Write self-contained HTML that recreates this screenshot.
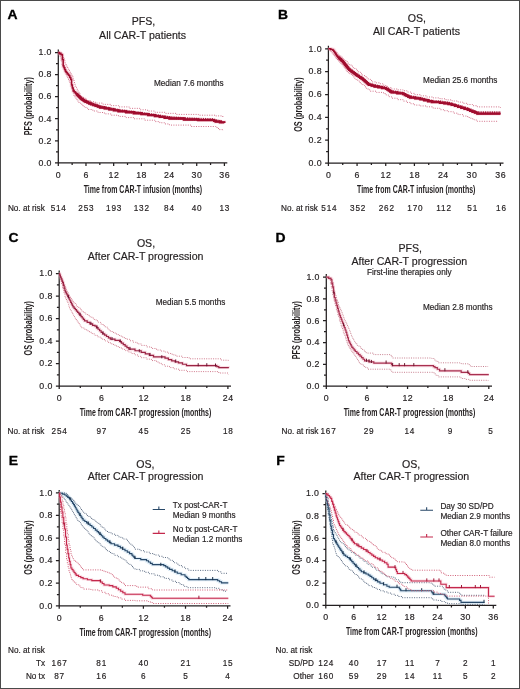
<!DOCTYPE html>
<html><head><meta charset="utf-8"><style>
html,body{margin:0;padding:0;background:#fff;}
#w{position:relative;width:520px;height:689px;overflow:hidden;background:#fff;}
svg{position:absolute;left:0;top:0;}
#g{position:absolute;left:0;top:0;width:520px;height:689px;will-change:transform;}
text{font-family:"Liberation Sans", sans-serif;}
#bd{position:absolute;left:0;top:0;width:518px;height:687px;border:1px solid #4a4a4a;}
</style></head><body><div id="w">
<div id="g"><svg width="520" height="689" viewBox="0 0 520 689">
<text transform="translate(7.60,18.90) scale(1.14,1)" font-size="12.2" text-anchor="start" font-weight="bold" fill="#000" stroke="#000" stroke-width="0.3">A</text>
<text transform="translate(278.00,19.20) scale(1.14,1)" font-size="12.2" text-anchor="start" font-weight="bold" fill="#000" stroke="#000" stroke-width="0.3">B</text>
<text transform="translate(8.40,242.20) scale(1.14,1)" font-size="12.2" text-anchor="start" font-weight="bold" fill="#000" stroke="#000" stroke-width="0.3">C</text>
<text transform="translate(275.60,242.20) scale(1.14,1)" font-size="12.2" text-anchor="start" font-weight="bold" fill="#000" stroke="#000" stroke-width="0.3">D</text>
<text transform="translate(8.70,464.90) scale(1.14,1)" font-size="12.2" text-anchor="start" font-weight="bold" fill="#000" stroke="#000" stroke-width="0.3">E</text>
<text transform="translate(276.30,464.90) scale(1.14,1)" font-size="12.2" text-anchor="start" font-weight="bold" fill="#000" stroke="#000" stroke-width="0.3">F</text>
<text x="143.50" y="25.00" font-size="10.6" text-anchor="middle" font-weight="normal" fill="#231f20" stroke="#231f20" stroke-width="0.18">PFS,</text>
<text x="142.60" y="38.70" font-size="10.6" text-anchor="middle" font-weight="normal" fill="#231f20" stroke="#231f20" stroke-width="0.18">All CAR-T patients</text>
<text x="416.80" y="22.40" font-size="10.6" text-anchor="middle" font-weight="normal" fill="#231f20" stroke="#231f20" stroke-width="0.18">OS,</text>
<text x="416.50" y="35.20" font-size="10.6" text-anchor="middle" font-weight="normal" fill="#231f20" stroke="#231f20" stroke-width="0.18">All CAR-T patients</text>
<text x="146.00" y="246.60" font-size="10.6" text-anchor="middle" font-weight="normal" fill="#231f20" stroke="#231f20" stroke-width="0.18">OS,</text>
<text x="145.60" y="259.60" font-size="10.6" text-anchor="middle" font-weight="normal" fill="#231f20" stroke="#231f20" stroke-width="0.18">After CAR-T progression</text>
<text x="410.20" y="252.40" font-size="10.6" text-anchor="middle" font-weight="normal" fill="#231f20" stroke="#231f20" stroke-width="0.18">PFS,</text>
<text x="409.30" y="265.40" font-size="10.6" text-anchor="middle" font-weight="normal" fill="#231f20" stroke="#231f20" stroke-width="0.18">After CAR-T progression</text>
<text x="409.30" y="274.90" font-size="8.2" text-anchor="middle" font-weight="normal" fill="#231f20" stroke="#231f20" stroke-width="0.18">First-line therapies only</text>
<text x="145.40" y="467.60" font-size="10.6" text-anchor="middle" font-weight="normal" fill="#231f20" stroke="#231f20" stroke-width="0.18">OS,</text>
<text x="145.60" y="480.30" font-size="10.6" text-anchor="middle" font-weight="normal" fill="#231f20" stroke="#231f20" stroke-width="0.18">After CAR-T progression</text>
<text x="411.20" y="467.60" font-size="10.6" text-anchor="middle" font-weight="normal" fill="#231f20" stroke="#231f20" stroke-width="0.18">OS,</text>
<text x="411.35" y="480.30" font-size="10.6" text-anchor="middle" font-weight="normal" fill="#231f20" stroke="#231f20" stroke-width="0.18">After CAR-T progression</text>
<path d="M58.30 49.50V163.50 M57.70 162.90H227.30 M55.00 162.90H58.30 M56.00 151.86H58.30 M55.00 140.82H58.30 M56.00 129.78H58.30 M55.00 118.74H58.30 M56.00 107.70H58.30 M55.00 96.66H58.30 M56.00 85.62H58.30 M55.00 74.58H58.30 M56.00 63.54H58.30 M55.00 52.50H58.30 M58.30 162.90V165.90 M72.14 162.90V164.90 M85.98 162.90V165.90 M99.83 162.90V164.90 M113.67 162.90V165.90 M127.51 162.90V164.90 M141.35 162.90V165.90 M155.19 162.90V164.90 M169.03 162.90V165.90 M182.88 162.90V164.90 M196.72 162.90V165.90 M210.56 162.90V164.90 M224.40 162.90V165.90" stroke="#231f20" stroke-width="1.25" fill="none"/>
<text x="51.90" y="165.70" font-size="8.8" text-anchor="end" font-weight="normal" fill="#231f20" stroke="#231f20" stroke-width="0.18" letter-spacing="0.4">0.0</text>
<text x="51.90" y="143.62" font-size="8.8" text-anchor="end" font-weight="normal" fill="#231f20" stroke="#231f20" stroke-width="0.18" letter-spacing="0.4">0.2</text>
<text x="51.90" y="121.54" font-size="8.8" text-anchor="end" font-weight="normal" fill="#231f20" stroke="#231f20" stroke-width="0.18" letter-spacing="0.4">0.4</text>
<text x="51.90" y="99.46" font-size="8.8" text-anchor="end" font-weight="normal" fill="#231f20" stroke="#231f20" stroke-width="0.18" letter-spacing="0.4">0.6</text>
<text x="51.90" y="77.38" font-size="8.8" text-anchor="end" font-weight="normal" fill="#231f20" stroke="#231f20" stroke-width="0.18" letter-spacing="0.4">0.8</text>
<text x="51.90" y="55.30" font-size="8.8" text-anchor="end" font-weight="normal" fill="#231f20" stroke="#231f20" stroke-width="0.18" letter-spacing="0.4">1.0</text>
<text x="58.55" y="177.90" font-size="8.8" text-anchor="middle" font-weight="normal" fill="#231f20" stroke="#231f20" stroke-width="0.18" letter-spacing="0.5">0</text>
<text x="86.23" y="177.90" font-size="8.8" text-anchor="middle" font-weight="normal" fill="#231f20" stroke="#231f20" stroke-width="0.18" letter-spacing="0.5">6</text>
<text x="113.92" y="177.90" font-size="8.8" text-anchor="middle" font-weight="normal" fill="#231f20" stroke="#231f20" stroke-width="0.18" letter-spacing="0.5">12</text>
<text x="141.60" y="177.90" font-size="8.8" text-anchor="middle" font-weight="normal" fill="#231f20" stroke="#231f20" stroke-width="0.18" letter-spacing="0.5">18</text>
<text x="169.28" y="177.90" font-size="8.8" text-anchor="middle" font-weight="normal" fill="#231f20" stroke="#231f20" stroke-width="0.18" letter-spacing="0.5">24</text>
<text x="196.97" y="177.90" font-size="8.8" text-anchor="middle" font-weight="normal" fill="#231f20" stroke="#231f20" stroke-width="0.18" letter-spacing="0.5">30</text>
<text x="224.65" y="177.90" font-size="8.8" text-anchor="middle" font-weight="normal" fill="#231f20" stroke="#231f20" stroke-width="0.18" letter-spacing="0.5">36</text>
<path d="M328.40 45.80V163.70 M327.80 163.10H503.50 M325.10 163.10H328.40 M326.10 151.67H328.40 M325.10 140.24H328.40 M326.10 128.81H328.40 M325.10 117.38H328.40 M326.10 105.95H328.40 M325.10 94.52H328.40 M326.10 83.09H328.40 M325.10 71.66H328.40 M326.10 60.23H328.40 M325.10 48.80H328.40 M328.40 163.10V166.10 M342.73 163.10V165.10 M357.07 163.10V166.10 M371.40 163.10V165.10 M385.73 163.10V166.10 M400.07 163.10V165.10 M414.40 163.10V166.10 M428.73 163.10V165.10 M443.07 163.10V166.10 M457.40 163.10V165.10 M471.73 163.10V166.10 M486.07 163.10V165.10 M500.40 163.10V166.10" stroke="#231f20" stroke-width="1.25" fill="none"/>
<text x="322.00" y="165.90" font-size="8.8" text-anchor="end" font-weight="normal" fill="#231f20" stroke="#231f20" stroke-width="0.18" letter-spacing="0.4">0.0</text>
<text x="322.00" y="143.04" font-size="8.8" text-anchor="end" font-weight="normal" fill="#231f20" stroke="#231f20" stroke-width="0.18" letter-spacing="0.4">0.2</text>
<text x="322.00" y="120.18" font-size="8.8" text-anchor="end" font-weight="normal" fill="#231f20" stroke="#231f20" stroke-width="0.18" letter-spacing="0.4">0.4</text>
<text x="322.00" y="97.32" font-size="8.8" text-anchor="end" font-weight="normal" fill="#231f20" stroke="#231f20" stroke-width="0.18" letter-spacing="0.4">0.6</text>
<text x="322.00" y="74.46" font-size="8.8" text-anchor="end" font-weight="normal" fill="#231f20" stroke="#231f20" stroke-width="0.18" letter-spacing="0.4">0.8</text>
<text x="322.00" y="51.60" font-size="8.8" text-anchor="end" font-weight="normal" fill="#231f20" stroke="#231f20" stroke-width="0.18" letter-spacing="0.4">1.0</text>
<text x="328.65" y="178.10" font-size="8.8" text-anchor="middle" font-weight="normal" fill="#231f20" stroke="#231f20" stroke-width="0.18" letter-spacing="0.5">0</text>
<text x="357.32" y="178.10" font-size="8.8" text-anchor="middle" font-weight="normal" fill="#231f20" stroke="#231f20" stroke-width="0.18" letter-spacing="0.5">6</text>
<text x="385.98" y="178.10" font-size="8.8" text-anchor="middle" font-weight="normal" fill="#231f20" stroke="#231f20" stroke-width="0.18" letter-spacing="0.5">12</text>
<text x="414.65" y="178.10" font-size="8.8" text-anchor="middle" font-weight="normal" fill="#231f20" stroke="#231f20" stroke-width="0.18" letter-spacing="0.5">18</text>
<text x="443.32" y="178.10" font-size="8.8" text-anchor="middle" font-weight="normal" fill="#231f20" stroke="#231f20" stroke-width="0.18" letter-spacing="0.5">24</text>
<text x="471.98" y="178.10" font-size="8.8" text-anchor="middle" font-weight="normal" fill="#231f20" stroke="#231f20" stroke-width="0.18" letter-spacing="0.5">30</text>
<text x="500.65" y="178.10" font-size="8.8" text-anchor="middle" font-weight="normal" fill="#231f20" stroke="#231f20" stroke-width="0.18" letter-spacing="0.5">36</text>
<path d="M59.20 270.50V386.60 M58.60 386.00H231.00 M55.90 386.00H59.20 M56.90 374.75H59.20 M55.90 363.50H59.20 M56.90 352.25H59.20 M55.90 341.00H59.20 M56.90 329.75H59.20 M55.90 318.50H59.20 M56.90 307.25H59.20 M55.90 296.00H59.20 M56.90 284.75H59.20 M55.90 273.50H59.20 M59.20 386.00V389.00 M80.29 386.00V388.00 M101.38 386.00V389.00 M122.46 386.00V388.00 M143.55 386.00V389.00 M164.64 386.00V388.00 M185.72 386.00V389.00 M206.81 386.00V388.00 M227.90 386.00V389.00" stroke="#231f20" stroke-width="1.25" fill="none"/>
<text x="52.80" y="388.80" font-size="8.8" text-anchor="end" font-weight="normal" fill="#231f20" stroke="#231f20" stroke-width="0.18" letter-spacing="0.4">0.0</text>
<text x="52.80" y="366.30" font-size="8.8" text-anchor="end" font-weight="normal" fill="#231f20" stroke="#231f20" stroke-width="0.18" letter-spacing="0.4">0.2</text>
<text x="52.80" y="343.80" font-size="8.8" text-anchor="end" font-weight="normal" fill="#231f20" stroke="#231f20" stroke-width="0.18" letter-spacing="0.4">0.4</text>
<text x="52.80" y="321.30" font-size="8.8" text-anchor="end" font-weight="normal" fill="#231f20" stroke="#231f20" stroke-width="0.18" letter-spacing="0.4">0.6</text>
<text x="52.80" y="298.80" font-size="8.8" text-anchor="end" font-weight="normal" fill="#231f20" stroke="#231f20" stroke-width="0.18" letter-spacing="0.4">0.8</text>
<text x="52.80" y="276.30" font-size="8.8" text-anchor="end" font-weight="normal" fill="#231f20" stroke="#231f20" stroke-width="0.18" letter-spacing="0.4">1.0</text>
<text x="59.45" y="401.00" font-size="8.8" text-anchor="middle" font-weight="normal" fill="#231f20" stroke="#231f20" stroke-width="0.18" letter-spacing="0.5">0</text>
<text x="101.62" y="401.00" font-size="8.8" text-anchor="middle" font-weight="normal" fill="#231f20" stroke="#231f20" stroke-width="0.18" letter-spacing="0.5">6</text>
<text x="143.80" y="401.00" font-size="8.8" text-anchor="middle" font-weight="normal" fill="#231f20" stroke="#231f20" stroke-width="0.18" letter-spacing="0.5">12</text>
<text x="185.97" y="401.00" font-size="8.8" text-anchor="middle" font-weight="normal" fill="#231f20" stroke="#231f20" stroke-width="0.18" letter-spacing="0.5">18</text>
<text x="228.15" y="401.00" font-size="8.8" text-anchor="middle" font-weight="normal" fill="#231f20" stroke="#231f20" stroke-width="0.18" letter-spacing="0.5">24</text>
<path d="M326.30 274.10V386.70 M325.70 386.10H492.00 M323.00 386.10H326.30 M324.00 375.20H326.30 M323.00 364.30H326.30 M324.00 353.40H326.30 M323.00 342.50H326.30 M324.00 331.60H326.30 M323.00 320.70H326.30 M324.00 309.80H326.30 M323.00 298.90H326.30 M324.00 288.00H326.30 M323.00 277.10H326.30 M326.30 386.10V389.10 M346.61 386.10V388.10 M366.93 386.10V389.10 M387.24 386.10V388.10 M407.55 386.10V389.10 M427.86 386.10V388.10 M448.18 386.10V389.10 M468.49 386.10V388.10 M488.80 386.10V389.10" stroke="#231f20" stroke-width="1.25" fill="none"/>
<text x="319.90" y="388.90" font-size="8.8" text-anchor="end" font-weight="normal" fill="#231f20" stroke="#231f20" stroke-width="0.18" letter-spacing="0.4">0.0</text>
<text x="319.90" y="367.10" font-size="8.8" text-anchor="end" font-weight="normal" fill="#231f20" stroke="#231f20" stroke-width="0.18" letter-spacing="0.4">0.2</text>
<text x="319.90" y="345.30" font-size="8.8" text-anchor="end" font-weight="normal" fill="#231f20" stroke="#231f20" stroke-width="0.18" letter-spacing="0.4">0.4</text>
<text x="319.90" y="323.50" font-size="8.8" text-anchor="end" font-weight="normal" fill="#231f20" stroke="#231f20" stroke-width="0.18" letter-spacing="0.4">0.6</text>
<text x="319.90" y="301.70" font-size="8.8" text-anchor="end" font-weight="normal" fill="#231f20" stroke="#231f20" stroke-width="0.18" letter-spacing="0.4">0.8</text>
<text x="319.90" y="279.90" font-size="8.8" text-anchor="end" font-weight="normal" fill="#231f20" stroke="#231f20" stroke-width="0.18" letter-spacing="0.4">1.0</text>
<text x="326.55" y="401.10" font-size="8.8" text-anchor="middle" font-weight="normal" fill="#231f20" stroke="#231f20" stroke-width="0.18" letter-spacing="0.5">0</text>
<text x="367.18" y="401.10" font-size="8.8" text-anchor="middle" font-weight="normal" fill="#231f20" stroke="#231f20" stroke-width="0.18" letter-spacing="0.5">6</text>
<text x="407.80" y="401.10" font-size="8.8" text-anchor="middle" font-weight="normal" fill="#231f20" stroke="#231f20" stroke-width="0.18" letter-spacing="0.5">12</text>
<text x="448.43" y="401.10" font-size="8.8" text-anchor="middle" font-weight="normal" fill="#231f20" stroke="#231f20" stroke-width="0.18" letter-spacing="0.5">18</text>
<text x="489.05" y="401.10" font-size="8.8" text-anchor="middle" font-weight="normal" fill="#231f20" stroke="#231f20" stroke-width="0.18" letter-spacing="0.5">24</text>
<path d="M59.20 489.90V606.40 M58.60 605.80H230.50 M55.90 605.80H59.20 M56.90 594.51H59.20 M55.90 583.22H59.20 M56.90 571.93H59.20 M55.90 560.64H59.20 M56.90 549.35H59.20 M55.90 538.06H59.20 M56.90 526.77H59.20 M55.90 515.48H59.20 M56.90 504.19H59.20 M55.90 492.90H59.20 M59.20 605.80V608.80 M80.25 605.80V607.80 M101.30 605.80V608.80 M122.35 605.80V607.80 M143.40 605.80V608.80 M164.45 605.80V607.80 M185.50 605.80V608.80 M206.55 605.80V607.80 M227.60 605.80V608.80" stroke="#231f20" stroke-width="1.25" fill="none"/>
<text x="52.80" y="608.60" font-size="8.8" text-anchor="end" font-weight="normal" fill="#231f20" stroke="#231f20" stroke-width="0.18" letter-spacing="0.4">0.0</text>
<text x="52.80" y="586.02" font-size="8.8" text-anchor="end" font-weight="normal" fill="#231f20" stroke="#231f20" stroke-width="0.18" letter-spacing="0.4">0.2</text>
<text x="52.80" y="563.44" font-size="8.8" text-anchor="end" font-weight="normal" fill="#231f20" stroke="#231f20" stroke-width="0.18" letter-spacing="0.4">0.4</text>
<text x="52.80" y="540.86" font-size="8.8" text-anchor="end" font-weight="normal" fill="#231f20" stroke="#231f20" stroke-width="0.18" letter-spacing="0.4">0.6</text>
<text x="52.80" y="518.28" font-size="8.8" text-anchor="end" font-weight="normal" fill="#231f20" stroke="#231f20" stroke-width="0.18" letter-spacing="0.4">0.8</text>
<text x="52.80" y="495.70" font-size="8.8" text-anchor="end" font-weight="normal" fill="#231f20" stroke="#231f20" stroke-width="0.18" letter-spacing="0.4">1.0</text>
<text x="59.45" y="620.80" font-size="8.8" text-anchor="middle" font-weight="normal" fill="#231f20" stroke="#231f20" stroke-width="0.18" letter-spacing="0.5">0</text>
<text x="101.55" y="620.80" font-size="8.8" text-anchor="middle" font-weight="normal" fill="#231f20" stroke="#231f20" stroke-width="0.18" letter-spacing="0.5">6</text>
<text x="143.65" y="620.80" font-size="8.8" text-anchor="middle" font-weight="normal" fill="#231f20" stroke="#231f20" stroke-width="0.18" letter-spacing="0.5">12</text>
<text x="185.75" y="620.80" font-size="8.8" text-anchor="middle" font-weight="normal" fill="#231f20" stroke="#231f20" stroke-width="0.18" letter-spacing="0.5">18</text>
<text x="227.85" y="620.80" font-size="8.8" text-anchor="middle" font-weight="normal" fill="#231f20" stroke="#231f20" stroke-width="0.18" letter-spacing="0.5">24</text>
<path d="M325.80 490.50V606.00 M325.20 605.40H496.30 M322.50 605.40H325.80 M323.50 594.21H325.80 M322.50 583.02H325.80 M323.50 571.83H325.80 M322.50 560.64H325.80 M323.50 549.45H325.80 M322.50 538.26H325.80 M323.50 527.07H325.80 M322.50 515.88H325.80 M323.50 504.69H325.80 M322.50 493.50H325.80 M325.80 605.40V608.40 M339.76 605.40V607.40 M353.72 605.40V608.40 M367.68 605.40V607.40 M381.63 605.40V608.40 M395.59 605.40V607.40 M409.55 605.40V608.40 M423.51 605.40V607.40 M437.47 605.40V608.40 M451.43 605.40V607.40 M465.38 605.40V608.40 M479.34 605.40V607.40 M493.30 605.40V608.40" stroke="#231f20" stroke-width="1.25" fill="none"/>
<text x="319.40" y="608.20" font-size="8.8" text-anchor="end" font-weight="normal" fill="#231f20" stroke="#231f20" stroke-width="0.18" letter-spacing="0.4">0.0</text>
<text x="319.40" y="585.82" font-size="8.8" text-anchor="end" font-weight="normal" fill="#231f20" stroke="#231f20" stroke-width="0.18" letter-spacing="0.4">0.2</text>
<text x="319.40" y="563.44" font-size="8.8" text-anchor="end" font-weight="normal" fill="#231f20" stroke="#231f20" stroke-width="0.18" letter-spacing="0.4">0.4</text>
<text x="319.40" y="541.06" font-size="8.8" text-anchor="end" font-weight="normal" fill="#231f20" stroke="#231f20" stroke-width="0.18" letter-spacing="0.4">0.6</text>
<text x="319.40" y="518.68" font-size="8.8" text-anchor="end" font-weight="normal" fill="#231f20" stroke="#231f20" stroke-width="0.18" letter-spacing="0.4">0.8</text>
<text x="319.40" y="496.30" font-size="8.8" text-anchor="end" font-weight="normal" fill="#231f20" stroke="#231f20" stroke-width="0.18" letter-spacing="0.4">1.0</text>
<text x="326.05" y="620.40" font-size="8.8" text-anchor="middle" font-weight="normal" fill="#231f20" stroke="#231f20" stroke-width="0.18" letter-spacing="0.5">0</text>
<text x="353.97" y="620.40" font-size="8.8" text-anchor="middle" font-weight="normal" fill="#231f20" stroke="#231f20" stroke-width="0.18" letter-spacing="0.5">6</text>
<text x="381.88" y="620.40" font-size="8.8" text-anchor="middle" font-weight="normal" fill="#231f20" stroke="#231f20" stroke-width="0.18" letter-spacing="0.5">12</text>
<text x="409.80" y="620.40" font-size="8.8" text-anchor="middle" font-weight="normal" fill="#231f20" stroke="#231f20" stroke-width="0.18" letter-spacing="0.5">18</text>
<text x="437.72" y="620.40" font-size="8.8" text-anchor="middle" font-weight="normal" fill="#231f20" stroke="#231f20" stroke-width="0.18" letter-spacing="0.5">24</text>
<text x="465.63" y="620.40" font-size="8.8" text-anchor="middle" font-weight="normal" fill="#231f20" stroke="#231f20" stroke-width="0.18" letter-spacing="0.5">30</text>
<text x="493.55" y="620.40" font-size="8.8" text-anchor="middle" font-weight="normal" fill="#231f20" stroke="#231f20" stroke-width="0.18" letter-spacing="0.5">36</text>
<text transform="translate(32.30,106.20) rotate(-90) scale(0.727,1)" font-size="10.0" text-anchor="middle" font-weight="bold" fill="#231f20">PFS (probability)</text>
<text transform="translate(302.00,104.60) rotate(-90) scale(0.727,1)" font-size="10.0" text-anchor="middle" font-weight="bold" fill="#231f20">OS (probability)</text>
<text transform="translate(32.30,328.20) rotate(-90) scale(0.727,1)" font-size="10.0" text-anchor="middle" font-weight="bold" fill="#231f20">OS (probability)</text>
<text transform="translate(300.00,330.20) rotate(-90) scale(0.727,1)" font-size="10.0" text-anchor="middle" font-weight="bold" fill="#231f20">PFS (probability)</text>
<text transform="translate(32.30,547.50) rotate(-90) scale(0.727,1)" font-size="10.0" text-anchor="middle" font-weight="bold" fill="#231f20">OS (probability)</text>
<text transform="translate(300.00,547.50) rotate(-90) scale(0.727,1)" font-size="10.0" text-anchor="middle" font-weight="bold" fill="#231f20">OS (probability)</text>
<text transform="translate(142.90,192.70) scale(0.7,1)" font-size="10.0" text-anchor="middle" font-weight="bold" fill="#231f20">Time from CAR-T infusion (months)</text>
<text transform="translate(416.20,192.90) scale(0.7,1)" font-size="10.0" text-anchor="middle" font-weight="bold" fill="#231f20">Time from CAR-T infusion (months)</text>
<text transform="translate(145.50,415.80) scale(0.7,1)" font-size="10.0" text-anchor="middle" font-weight="bold" fill="#231f20">Time from CAR-T progression (months)</text>
<text transform="translate(409.50,415.90) scale(0.7,1)" font-size="10.0" text-anchor="middle" font-weight="bold" fill="#231f20">Time from CAR-T progression (months)</text>
<text transform="translate(145.20,635.60) scale(0.7,1)" font-size="10.0" text-anchor="middle" font-weight="bold" fill="#231f20">Time from CAR-T progression (months)</text>
<text transform="translate(411.70,635.20) scale(0.7,1)" font-size="10.0" text-anchor="middle" font-weight="bold" fill="#231f20">Time from CAR-T progression (months)</text>
<text x="7.90" y="210.70" font-size="8.2" text-anchor="start" font-weight="normal" fill="#231f20" stroke="#231f20" stroke-width="0.18">No. at risk</text>
<text x="58.70" y="210.70" font-size="8.2" text-anchor="middle" font-weight="normal" fill="#231f20" stroke="#231f20" stroke-width="0.18" letter-spacing="0.8">514</text>
<text x="86.38" y="210.70" font-size="8.2" text-anchor="middle" font-weight="normal" fill="#231f20" stroke="#231f20" stroke-width="0.18" letter-spacing="0.8">253</text>
<text x="114.07" y="210.70" font-size="8.2" text-anchor="middle" font-weight="normal" fill="#231f20" stroke="#231f20" stroke-width="0.18" letter-spacing="0.8">193</text>
<text x="141.75" y="210.70" font-size="8.2" text-anchor="middle" font-weight="normal" fill="#231f20" stroke="#231f20" stroke-width="0.18" letter-spacing="0.8">132</text>
<text x="169.43" y="210.70" font-size="8.2" text-anchor="middle" font-weight="normal" fill="#231f20" stroke="#231f20" stroke-width="0.18" letter-spacing="0.8">84</text>
<text x="197.12" y="210.70" font-size="8.2" text-anchor="middle" font-weight="normal" fill="#231f20" stroke="#231f20" stroke-width="0.18" letter-spacing="0.8">40</text>
<text x="224.80" y="210.70" font-size="8.2" text-anchor="middle" font-weight="normal" fill="#231f20" stroke="#231f20" stroke-width="0.18" letter-spacing="0.8">13</text>
<text x="281.00" y="210.90" font-size="8.2" text-anchor="start" font-weight="normal" fill="#231f20" stroke="#231f20" stroke-width="0.18">No. at risk</text>
<text x="329.40" y="210.90" font-size="8.2" text-anchor="middle" font-weight="normal" fill="#231f20" stroke="#231f20" stroke-width="0.18" letter-spacing="0.8">514</text>
<text x="358.07" y="210.90" font-size="8.2" text-anchor="middle" font-weight="normal" fill="#231f20" stroke="#231f20" stroke-width="0.18" letter-spacing="0.8">352</text>
<text x="386.73" y="210.90" font-size="8.2" text-anchor="middle" font-weight="normal" fill="#231f20" stroke="#231f20" stroke-width="0.18" letter-spacing="0.8">262</text>
<text x="415.40" y="210.90" font-size="8.2" text-anchor="middle" font-weight="normal" fill="#231f20" stroke="#231f20" stroke-width="0.18" letter-spacing="0.8">170</text>
<text x="444.07" y="210.90" font-size="8.2" text-anchor="middle" font-weight="normal" fill="#231f20" stroke="#231f20" stroke-width="0.18" letter-spacing="0.8">112</text>
<text x="472.73" y="210.90" font-size="8.2" text-anchor="middle" font-weight="normal" fill="#231f20" stroke="#231f20" stroke-width="0.18" letter-spacing="0.8">51</text>
<text x="501.40" y="210.90" font-size="8.2" text-anchor="middle" font-weight="normal" fill="#231f20" stroke="#231f20" stroke-width="0.18" letter-spacing="0.8">16</text>
<text x="7.60" y="433.80" font-size="8.2" text-anchor="start" font-weight="normal" fill="#231f20" stroke="#231f20" stroke-width="0.18">No. at risk</text>
<text x="59.60" y="433.80" font-size="8.2" text-anchor="middle" font-weight="normal" fill="#231f20" stroke="#231f20" stroke-width="0.18" letter-spacing="0.8">254</text>
<text x="101.78" y="433.80" font-size="8.2" text-anchor="middle" font-weight="normal" fill="#231f20" stroke="#231f20" stroke-width="0.18" letter-spacing="0.8">97</text>
<text x="143.95" y="433.80" font-size="8.2" text-anchor="middle" font-weight="normal" fill="#231f20" stroke="#231f20" stroke-width="0.18" letter-spacing="0.8">45</text>
<text x="186.12" y="433.80" font-size="8.2" text-anchor="middle" font-weight="normal" fill="#231f20" stroke="#231f20" stroke-width="0.18" letter-spacing="0.8">25</text>
<text x="228.30" y="433.80" font-size="8.2" text-anchor="middle" font-weight="normal" fill="#231f20" stroke="#231f20" stroke-width="0.18" letter-spacing="0.8">18</text>
<text x="281.50" y="433.70" font-size="8.2" text-anchor="start" font-weight="normal" fill="#231f20" stroke="#231f20" stroke-width="0.18">No. at risk</text>
<text x="328.50" y="433.70" font-size="8.2" text-anchor="middle" font-weight="normal" fill="#231f20" stroke="#231f20" stroke-width="0.18" letter-spacing="0.8">167</text>
<text x="369.12" y="433.70" font-size="8.2" text-anchor="middle" font-weight="normal" fill="#231f20" stroke="#231f20" stroke-width="0.18" letter-spacing="0.8">29</text>
<text x="409.75" y="433.70" font-size="8.2" text-anchor="middle" font-weight="normal" fill="#231f20" stroke="#231f20" stroke-width="0.18" letter-spacing="0.8">14</text>
<text x="450.38" y="433.70" font-size="8.2" text-anchor="middle" font-weight="normal" fill="#231f20" stroke="#231f20" stroke-width="0.18" letter-spacing="0.8">9</text>
<text x="491.00" y="433.70" font-size="8.2" text-anchor="middle" font-weight="normal" fill="#231f20" stroke="#231f20" stroke-width="0.18" letter-spacing="0.8">5</text>
<text x="8.00" y="653.10" font-size="8.2" text-anchor="start" font-weight="normal" fill="#231f20" stroke="#231f20" stroke-width="0.18">No. at risk</text>
<text x="45.00" y="665.80" font-size="8.2" text-anchor="end" font-weight="normal" fill="#231f20" stroke="#231f20" stroke-width="0.18">Tx</text>
<text x="59.60" y="665.80" font-size="8.2" text-anchor="middle" font-weight="normal" fill="#231f20" stroke="#231f20" stroke-width="0.18" letter-spacing="0.8">167</text>
<text x="101.70" y="665.80" font-size="8.2" text-anchor="middle" font-weight="normal" fill="#231f20" stroke="#231f20" stroke-width="0.18" letter-spacing="0.8">81</text>
<text x="143.80" y="665.80" font-size="8.2" text-anchor="middle" font-weight="normal" fill="#231f20" stroke="#231f20" stroke-width="0.18" letter-spacing="0.8">40</text>
<text x="185.90" y="665.80" font-size="8.2" text-anchor="middle" font-weight="normal" fill="#231f20" stroke="#231f20" stroke-width="0.18" letter-spacing="0.8">21</text>
<text x="228.00" y="665.80" font-size="8.2" text-anchor="middle" font-weight="normal" fill="#231f20" stroke="#231f20" stroke-width="0.18" letter-spacing="0.8">15</text>
<text x="45.00" y="679.00" font-size="8.2" text-anchor="end" font-weight="normal" fill="#231f20" stroke="#231f20" stroke-width="0.18">No tx</text>
<text x="59.60" y="679.00" font-size="8.2" text-anchor="middle" font-weight="normal" fill="#231f20" stroke="#231f20" stroke-width="0.18" letter-spacing="0.8">87</text>
<text x="101.70" y="679.00" font-size="8.2" text-anchor="middle" font-weight="normal" fill="#231f20" stroke="#231f20" stroke-width="0.18" letter-spacing="0.8">16</text>
<text x="143.80" y="679.00" font-size="8.2" text-anchor="middle" font-weight="normal" fill="#231f20" stroke="#231f20" stroke-width="0.18" letter-spacing="0.8">6</text>
<text x="185.90" y="679.00" font-size="8.2" text-anchor="middle" font-weight="normal" fill="#231f20" stroke="#231f20" stroke-width="0.18" letter-spacing="0.8">5</text>
<text x="228.00" y="679.00" font-size="8.2" text-anchor="middle" font-weight="normal" fill="#231f20" stroke="#231f20" stroke-width="0.18" letter-spacing="0.8">4</text>
<text x="275.50" y="653.10" font-size="8.2" text-anchor="start" font-weight="normal" fill="#231f20" stroke="#231f20" stroke-width="0.18">No. at risk</text>
<text x="313.80" y="665.80" font-size="8.2" text-anchor="end" font-weight="normal" fill="#231f20" stroke="#231f20" stroke-width="0.18">SD/PD</text>
<text x="326.20" y="665.80" font-size="8.2" text-anchor="middle" font-weight="normal" fill="#231f20" stroke="#231f20" stroke-width="0.18" letter-spacing="0.8">124</text>
<text x="354.12" y="665.80" font-size="8.2" text-anchor="middle" font-weight="normal" fill="#231f20" stroke="#231f20" stroke-width="0.18" letter-spacing="0.8">40</text>
<text x="382.03" y="665.80" font-size="8.2" text-anchor="middle" font-weight="normal" fill="#231f20" stroke="#231f20" stroke-width="0.18" letter-spacing="0.8">17</text>
<text x="409.95" y="665.80" font-size="8.2" text-anchor="middle" font-weight="normal" fill="#231f20" stroke="#231f20" stroke-width="0.18" letter-spacing="0.8">11</text>
<text x="437.87" y="665.80" font-size="8.2" text-anchor="middle" font-weight="normal" fill="#231f20" stroke="#231f20" stroke-width="0.18" letter-spacing="0.8">7</text>
<text x="465.78" y="665.80" font-size="8.2" text-anchor="middle" font-weight="normal" fill="#231f20" stroke="#231f20" stroke-width="0.18" letter-spacing="0.8">2</text>
<text x="493.70" y="665.80" font-size="8.2" text-anchor="middle" font-weight="normal" fill="#231f20" stroke="#231f20" stroke-width="0.18" letter-spacing="0.8">1</text>
<text x="313.80" y="679.00" font-size="8.2" text-anchor="end" font-weight="normal" fill="#231f20" stroke="#231f20" stroke-width="0.18">Other</text>
<text x="326.20" y="679.00" font-size="8.2" text-anchor="middle" font-weight="normal" fill="#231f20" stroke="#231f20" stroke-width="0.18" letter-spacing="0.8">160</text>
<text x="354.12" y="679.00" font-size="8.2" text-anchor="middle" font-weight="normal" fill="#231f20" stroke="#231f20" stroke-width="0.18" letter-spacing="0.8">59</text>
<text x="382.03" y="679.00" font-size="8.2" text-anchor="middle" font-weight="normal" fill="#231f20" stroke="#231f20" stroke-width="0.18" letter-spacing="0.8">29</text>
<text x="409.95" y="679.00" font-size="8.2" text-anchor="middle" font-weight="normal" fill="#231f20" stroke="#231f20" stroke-width="0.18" letter-spacing="0.8">14</text>
<text x="437.87" y="679.00" font-size="8.2" text-anchor="middle" font-weight="normal" fill="#231f20" stroke="#231f20" stroke-width="0.18" letter-spacing="0.8">11</text>
<text x="465.78" y="679.00" font-size="8.2" text-anchor="middle" font-weight="normal" fill="#231f20" stroke="#231f20" stroke-width="0.18" letter-spacing="0.8">5</text>
<text x="493.70" y="679.00" font-size="8.2" text-anchor="middle" font-weight="normal" fill="#231f20" stroke="#231f20" stroke-width="0.18" letter-spacing="0.8">2</text>
<text x="154.00" y="85.90" font-size="8.2" text-anchor="start" font-weight="normal" fill="#231f20" stroke="#231f20" stroke-width="0.18">Median 7.6 months</text>
<text x="423.10" y="83.30" font-size="8.2" text-anchor="start" font-weight="normal" fill="#231f20" stroke="#231f20" stroke-width="0.18">Median 25.6 months</text>
<text x="155.70" y="305.00" font-size="8.2" text-anchor="start" font-weight="normal" fill="#231f20" stroke="#231f20" stroke-width="0.18">Median 5.5 months</text>
<text x="423.00" y="310.00" font-size="8.2" text-anchor="start" font-weight="normal" fill="#231f20" stroke="#231f20" stroke-width="0.18">Median 2.8 months</text>
<path d="M152.7 509.5H165.0M158.85 509.5V506.5" stroke="#284868" stroke-width="1.1" fill="none"/>
<text x="172.80" y="508.00" font-size="8.2" text-anchor="start" font-weight="normal" fill="#231f20" stroke="#231f20" stroke-width="0.18">Tx post-CAR-T</text>
<text x="172.80" y="517.50" font-size="8.2" text-anchor="start" font-weight="normal" fill="#231f20" stroke="#231f20" stroke-width="0.18">Median 9 months</text>
<path d="M152.7 533.4H165.0M158.85 533.4V530.4" stroke="#c4284c" stroke-width="1.1" fill="none"/>
<text x="172.80" y="532.30" font-size="8.2" text-anchor="start" font-weight="normal" fill="#231f20" stroke="#231f20" stroke-width="0.18">No tx post-CAR-T</text>
<text x="172.80" y="541.80" font-size="8.2" text-anchor="start" font-weight="normal" fill="#231f20" stroke="#231f20" stroke-width="0.18">Median 1.2 months</text>
<path d="M420.3 510.3H433.0M426.65 510.3V507.3" stroke="#284868" stroke-width="1.1" fill="none"/>
<text x="440.40" y="508.90" font-size="8.2" text-anchor="start" font-weight="normal" fill="#231f20" stroke="#231f20" stroke-width="0.18">Day 30 SD/PD</text>
<text x="440.40" y="518.80" font-size="8.2" text-anchor="start" font-weight="normal" fill="#231f20" stroke="#231f20" stroke-width="0.18">Median 2.9 months</text>
<path d="M420.3 537.0H433.0M426.65 537.0V534.0" stroke="#c4284c" stroke-width="1.1" fill="none"/>
<text x="440.40" y="536.20" font-size="8.2" text-anchor="start" font-weight="normal" fill="#231f20" stroke="#231f20" stroke-width="0.18">Other CAR-T failure</text>
<text x="440.40" y="545.80" font-size="8.2" text-anchor="start" font-weight="normal" fill="#231f20" stroke="#231f20" stroke-width="0.18">Median 8.0 months</text>
<path d="M58.30 52.50H59.27V53.27H60.23V54.03H61.20V54.80H62.40V59.60H63.20V66.00H64.00V67.83H64.80V69.67H65.60V71.50H66.40V72.50H67.20V73.50H68.00V74.50H68.80V75.50H69.80V77.50H70.80V79.50H71.60V85.10H72.40V87.90H73.20V90.70H74.10V91.70H75.00V92.70H75.90V93.70H76.80V94.70H77.78V95.70H78.75V96.70H79.72V97.70H80.70V98.70H81.90V99.50H83.10V100.30H84.30V101.10H85.50V101.90H87.37V102.70H89.23V103.50H91.10V104.30H93.32V105.10H95.55V105.90H97.78V106.70H100.00V107.50H104.62V108.45H109.25V109.40H113.88V110.35H118.50V111.30H126.17V112.27H133.83V113.23H141.50V114.20H148.25V115.20H155.00V116.20H159.80V116.97H164.60V117.73H169.40V118.50H183.90V119.50H198.30V120.20H212.70H214.15V120.90H215.60V121.60H219.95V122.35H224.30V123.10" stroke="#f4a8ba" stroke-width="3.6" fill="none" stroke-opacity="0.4"/>
<path d="M58.30 52.50H62.00V54.00H62.75V56.00H63.50V58.00H64.25V60.50H65.00V63.00H65.75V64.50H66.50V66.00H67.25V67.50H68.00V69.00H68.75V70.25H69.50V71.50H70.25V72.75H71.00V74.00H72.00V76.50H73.00V79.00H74.00V82.50H75.00V86.00H75.75V87.38H76.50V88.75H77.25V90.12H78.00V91.50H79.00V93.50H80.00V95.50H81.75V96.75H83.50V98.00H85.25V99.25H87.00V100.50H91.20V101.80H95.40V103.10H103.10V104.37H110.80V105.63H118.50V106.90H129.25V108.35H140.00V109.80H147.50V111.05H155.00V112.30H165.80V113.35H176.60V114.40H198.30V115.20H215.60V115.90H222.80V117.00" stroke="#d27088" stroke-width="1.0" fill="none" stroke-opacity="1.0" stroke-dasharray="1 1.4"/>
<path d="M58.30 53.00H59.03V54.67H59.77V56.33H60.50V58.00H61.25V61.50H62.00V65.00H63.00V68.00H64.00V71.00H64.75V72.50H65.50V74.00H66.25V75.50H67.00V77.00H67.75V78.50H68.50V80.00H69.25V81.50H70.00V83.00H71.00V86.50H72.00V90.00H73.00V93.00H74.00V96.00H75.00V97.40H76.00V98.80H77.00V100.20H78.00V101.60H79.00V103.00H80.74V104.30H82.48V105.60H84.22V106.90H85.96V108.20H87.70V109.50H92.85V111.00H98.00V112.50H104.40V113.85H110.80V115.20H118.47V116.40H126.13V117.60H133.80V118.80H144.40V120.20H155.00V121.60H159.80V122.77H164.60V123.93H169.40V125.10H191.00V126.50H215.60H217.05V128.05H218.50V129.60H222.80V131.00" stroke="#d27088" stroke-width="1.0" fill="none" stroke-opacity="1.0" stroke-dasharray="1 1.4"/>
<path d="M58.30 52.50H59.27V53.27H60.23V54.03H61.20V54.80H62.40V59.60H63.20V66.00H64.00V67.83H64.80V69.67H65.60V71.50H66.40V72.50H67.20V73.50H68.00V74.50H68.80V75.50H69.80V77.50H70.80V79.50H71.60V85.10H72.40V87.90H73.20V90.70H74.10V91.70H75.00V92.70H75.90V93.70H76.80V94.70H77.78V95.70H78.75V96.70H79.72V97.70H80.70V98.70H81.90V99.50H83.10V100.30H84.30V101.10H85.50V101.90H87.37V102.70H89.23V103.50H91.10V104.30H93.32V105.10H95.55V105.90H97.78V106.70H100.00V107.50H104.62V108.45H109.25V109.40H113.88V110.35H118.50V111.30H126.17V112.27H133.83V113.23H141.50V114.20H148.25V115.20H155.00V116.20H159.80V116.97H164.60V117.73H169.40V118.50H183.90V119.50H198.30V120.20H212.70H214.15V120.90H215.60V121.60H219.95V122.35H224.30V123.10" stroke="#a00c2e" stroke-width="1.5" fill="none" stroke-opacity="1.0"/>
<path d="M74.00 92.09V89.19 M75.80 94.09V91.19 M77.60 96.02V93.12 M79.40 97.87V94.97 M81.20 99.53V96.63 M83.00 100.73V97.83 M84.80 101.93V99.03 M86.60 102.87V99.97 M88.40 103.64V100.74 M90.20 104.41V101.51 M92.00 105.12V102.22 M93.80 105.77V102.87 M95.60 106.42V103.52 M97.40 107.07V104.17 M99.20 107.71V104.81 M101.00 108.21V105.31 M102.80 108.58V105.68 M104.60 108.94V106.04 M106.40 109.31V106.41 M108.20 109.68V106.78 M110.00 110.05V107.15 M111.80 110.42V107.52 M113.60 110.79V107.89 M115.40 111.16V108.26 M117.20 111.53V108.63 M119.00 111.86V108.96 M120.80 112.09V109.19 M122.60 112.32V109.42 M124.40 112.54V109.64 M126.20 112.77V109.87 M128.00 113.00V110.10 M129.80 113.22V110.32 M131.60 113.45V110.55 M133.40 113.68V110.78 M135.20 113.91V111.01 M137.00 114.13V111.23 M138.80 114.36V111.46 M140.60 114.59V111.69 M142.40 114.83V111.93 M144.20 115.10V112.20 M146.00 115.37V112.47 M147.80 115.63V112.73 M149.60 115.90V113.00 M151.40 116.17V113.27 M153.20 116.43V113.53 M155.00 116.70V113.80 M156.80 116.99V114.09 M158.60 117.27V114.37 M160.40 117.56V114.66 M162.20 117.85V114.95 M164.00 118.14V115.24 M165.80 118.42V115.52 M167.60 118.71V115.81 M169.40 119.00V116.10 M171.20 119.12V116.22 M173.00 119.25V116.35 M174.80 119.37V116.47 M176.60 119.50V116.60 M178.40 119.62V116.72 M180.20 119.74V116.84 M182.00 119.87V116.97 M183.80 119.99V117.09 M185.60 120.08V117.18 M187.40 120.17V117.27 M189.20 120.26V117.36 M191.00 120.35V117.45 M192.80 120.43V117.53 M194.60 120.52V117.62 M196.40 120.61V117.71 M198.20 120.70V117.80 M200.00 120.74V117.84 M201.80 120.77V117.87 M203.60 120.81V117.91 M205.40 120.85V117.95 M207.20 120.89V117.99 M209.00 120.92V118.02 M210.80 120.96V118.06 M212.60 121.00V118.10 M214.40 121.64V118.74 M216.20 122.20V119.30 M218.00 122.51V119.61 M219.80 122.82V119.92 M221.60 123.13V120.23" stroke="#a00c2e" stroke-width="1.0" fill="none"/>
<path d="M76.00 93.81H76.80V94.70H77.78V95.70H78.75V96.70H79.72V97.70H80.70V98.70H81.90V99.50H83.10V100.30H84.30V101.10H85.50V101.90H87.37V102.70H89.23V103.50H91.10V104.30H93.32V105.10H95.55V105.90H97.78V106.70H100.00V107.50H104.62V108.45H109.25V109.40H113.88V110.35H118.50V111.30H126.17V112.27H133.83V113.23H141.50V114.20H148.25V115.20H155.00V116.20H159.80V116.97H164.60V117.73H169.40V118.50H183.90V119.50H198.30V120.20H212.70H214.15V120.90H215.60V121.60H219.95V122.35H224.30V123.10" stroke="#a00c2e" stroke-width="2.3" fill="none" stroke-opacity="1.0"/>
<path d="M328.40 48.80H330.65V49.50H332.90V50.20H333.67V51.35H334.43V52.50H335.20V53.65H335.97V54.80H336.73V55.95H337.50V57.10H338.44V57.92H339.38V58.74H340.32V59.56H341.26V60.38H342.20V61.20H342.97V62.16H343.73V63.11H344.50V64.07H345.27V65.02H346.03V65.98H346.80V66.93H347.57V67.89H348.33V68.84H349.10V69.80H350.25V70.67H351.40V71.53H352.55V72.40H353.70V73.27H354.85V74.13H356.00V75.00H357.38V75.92H358.76V76.84H360.14V77.76H361.52V78.68H362.90V79.60H363.87V80.47H364.83V81.33H365.80V82.20H366.77V83.07H367.73V83.93H368.70V84.80H371.60V85.65H374.50V86.50H378.33V87.27H382.17V88.03H386.00V88.80H387.38V89.70H388.75V90.60H390.12V91.50H391.50V92.40H397.30V93.30H403.10V94.20H404.83V95.05H406.55V95.90H408.27V96.75H410.00V97.60H415.20V98.45H420.40V99.30H424.23V100.27H428.07V101.23H431.90V102.20H440.00V102.80H444.25V103.40H448.50V104.00H451.70V104.97H454.90V105.93H458.10V106.90H461.30V107.87H464.50V108.83H467.70V109.80H470.10V110.78H472.50V111.75H474.90V112.72H477.30V113.70H500.40" stroke="#f4a8ba" stroke-width="3.6" fill="none" stroke-opacity="0.4"/>
<path d="M328.40 48.80H332.00V50.00H333.83V51.40H335.67V52.80H337.50V54.20H339.16V55.69H340.81V57.17H342.47V58.66H344.13V60.14H345.79V61.63H347.44V63.11H349.10V64.60H351.02V66.13H352.93V67.67H354.85V69.20H356.77V70.73H358.68V72.27H360.60V73.80H362.53V75.15H364.47V76.50H366.40V77.85H368.33V79.20H370.27V80.55H372.20V81.90H376.10V82.85H380.00V83.80H382.88V85.10H385.75V86.40H388.62V87.70H391.50V89.00H397.30V89.85H403.10V90.70H406.93V92.03H410.77V93.37H414.60V94.70H420.40V95.85H426.20V97.00H433.10V97.90H440.00V98.80H446.03V99.90H452.07V101.00H458.10V102.10H462.90V103.30H467.70V104.50H472.50V105.70H477.30V106.90H500.40V107.90" stroke="#d27088" stroke-width="1.0" fill="none" stroke-opacity="1.0" stroke-dasharray="1 1.4"/>
<path d="M328.40 49.00H329.52V50.30H330.65V51.60H331.77V52.90H332.90V54.20H334.05V55.65H335.20V57.10H336.35V58.55H337.50V60.00H338.66V61.44H339.82V62.88H340.99V64.31H342.15V65.75H343.31V67.19H344.48V68.62H345.64V70.06H346.80V71.50H348.33V72.85H349.87V74.20H351.40V75.55H352.93V76.90H354.47V78.25H356.00V79.60H357.73V81.05H359.45V82.50H361.17V83.95H362.90V85.40H364.62V86.85H366.35V88.30H368.07V89.75H369.80V91.20H376.65V92.40H383.50V93.60H386.17V95.13H388.83V96.67H391.50V98.20H397.30V99.65H403.10V101.10H406.93V102.43H410.77V103.77H414.60V105.10H420.40V105.95H426.20V106.80H433.10V108.25H440.00V109.70H444.25V110.70H448.50V111.70H453.30V113.15H458.10V114.60H462.90V116.05H467.70V117.50H470.90V118.77H474.10V120.03H477.30V121.30H498.50" stroke="#d27088" stroke-width="1.0" fill="none" stroke-opacity="1.0" stroke-dasharray="1 1.4"/>
<path d="M328.40 48.80H330.65V49.50H332.90V50.20H333.67V51.35H334.43V52.50H335.20V53.65H335.97V54.80H336.73V55.95H337.50V57.10H338.44V57.92H339.38V58.74H340.32V59.56H341.26V60.38H342.20V61.20H342.97V62.16H343.73V63.11H344.50V64.07H345.27V65.02H346.03V65.98H346.80V66.93H347.57V67.89H348.33V68.84H349.10V69.80H350.25V70.67H351.40V71.53H352.55V72.40H353.70V73.27H354.85V74.13H356.00V75.00H357.38V75.92H358.76V76.84H360.14V77.76H361.52V78.68H362.90V79.60H363.87V80.47H364.83V81.33H365.80V82.20H366.77V83.07H367.73V83.93H368.70V84.80H371.60V85.65H374.50V86.50H378.33V87.27H382.17V88.03H386.00V88.80H387.38V89.70H388.75V90.60H390.12V91.50H391.50V92.40H397.30V93.30H403.10V94.20H404.83V95.05H406.55V95.90H408.27V96.75H410.00V97.60H415.20V98.45H420.40V99.30H424.23V100.27H428.07V101.23H431.90V102.20H440.00V102.80H444.25V103.40H448.50V104.00H451.70V104.97H454.90V105.93H458.10V106.90H461.30V107.87H464.50V108.83H467.70V109.80H470.10V110.78H472.50V111.75H474.90V112.72H477.30V113.70H500.40" stroke="#a00c2e" stroke-width="1.5" fill="none" stroke-opacity="1.0"/>
<path d="M336.00 55.35V52.45 M337.80 57.86V54.96 M339.60 59.43V56.53 M341.40 61.00V58.10 M343.20 62.95V60.05 M345.00 65.19V62.29 M346.80 67.43V64.53 M348.60 69.68V66.78 M350.40 71.28V68.38 M352.20 72.64V69.74 M354.00 73.99V71.09 M355.80 75.35V72.45 M357.60 76.57V73.67 M359.40 77.77V74.87 M361.20 78.97V76.07 M363.00 80.19V77.29 M364.80 81.80V78.90 M366.60 83.42V80.52 M368.40 85.03V82.13 M370.20 85.74V82.84 M372.00 86.27V83.37 M373.80 86.79V83.89 M375.60 87.22V84.32 M377.40 87.58V84.68 M379.20 87.94V85.04 M381.00 88.30V85.40 M382.80 88.66V85.76 M384.60 89.02V86.12 M386.40 89.56V86.66 M388.20 90.74V87.84 M390.00 91.92V89.02 M391.80 92.95V90.05 M393.60 93.23V90.33 M395.40 93.51V90.61 M397.20 93.78V90.88 M399.00 94.06V91.16 M400.80 94.34V91.44 M402.60 94.62V91.72 M404.40 95.34V92.44 M406.20 96.23V93.33 M408.00 97.11V94.21 M409.80 98.00V95.10 M411.60 98.36V95.46 M413.40 98.66V95.76 M415.20 98.95V96.05 M417.00 99.24V96.34 M418.80 99.54V96.64 M420.60 99.85V96.95 M422.40 100.30V97.40 M424.20 100.76V97.86 M426.00 101.21V98.31 M427.80 101.67V98.77 M429.60 102.12V99.22 M431.40 102.57V99.67 M433.20 102.80V99.90 M435.00 102.93V100.03 M436.80 103.06V100.16 M438.60 103.20V100.30 M440.40 103.36V100.46 M442.20 103.61V100.71 M444.00 103.86V100.96 M445.80 104.12V101.22 M447.60 104.37V101.47 M449.40 104.77V101.87 M451.20 105.32V102.42 M453.00 105.86V102.96 M454.80 106.40V103.50 M456.60 106.95V104.05 M458.40 107.49V104.59 M460.20 108.03V105.13 M462.00 108.58V105.68 M463.80 109.12V106.22 M465.60 109.67V106.77 M467.40 110.21V107.31 M469.20 110.91V108.01 M471.00 111.64V108.74 M472.80 112.37V109.47 M474.60 113.10V110.20 M476.40 113.83V110.93 M478.20 114.20V111.30 M480.00 114.20V111.30 M481.80 114.20V111.30 M483.60 114.20V111.30 M485.40 114.20V111.30 M487.20 114.20V111.30 M489.00 114.20V111.30 M490.80 114.20V111.30 M492.60 114.20V111.30 M494.40 114.20V111.30 M496.20 114.20V111.30 M498.00 114.20V111.30 M499.80 114.20V111.30" stroke="#a00c2e" stroke-width="1.0" fill="none"/>
<path d="M338.00 57.54H339.05V58.45H340.10V59.37H341.15V60.28H342.20V61.20H342.97V62.16H343.73V63.11H344.50V64.07H345.27V65.02H346.03V65.98H346.80V66.93H347.57V67.89H348.33V68.84H349.10V69.80H350.25V70.67H351.40V71.53H352.55V72.40H353.70V73.27H354.85V74.13H356.00V75.00H357.38V75.92H358.76V76.84H360.14V77.76H361.52V78.68H362.90V79.60H363.87V80.47H364.83V81.33H365.80V82.20H366.77V83.07H367.73V83.93H368.70V84.80H371.60V85.65H374.50V86.50H378.33V87.27H382.17V88.03H386.00V88.80H387.38V89.70H388.75V90.60H390.12V91.50H391.50V92.40H397.30V93.30H403.10V94.20H404.83V95.05H406.55V95.90H408.27V96.75H410.00V97.60H415.20V98.45H420.40V99.30H424.23V100.27H428.07V101.23H431.90V102.20H440.00V102.80H444.25V103.40H448.50V104.00H451.70V104.97H454.90V105.93H458.10V106.90H461.30V107.87H464.50V108.83H467.70V109.80H470.10V110.78H472.50V111.75H474.90V112.72H477.30V113.70H500.40" stroke="#a00c2e" stroke-width="2.3" fill="none" stroke-opacity="1.0"/>
<path d="M59.20 273.50H59.70V275.20H60.43V277.07H61.15V278.95H61.88V280.82H62.60V282.70H63.37V285.40H64.13V288.10H64.90V290.80H65.60V292.18H66.30V293.56H67.00V294.94H67.70V296.32H68.40V297.70H69.17V299.23H69.93V300.77H70.70V302.30H71.47V303.83H72.23V305.37H73.00V306.90H74.16V308.28H75.32V309.66H76.48V311.04H77.64V312.42H78.80V313.80H79.94V315.20H81.08V316.60H82.22V318.00H83.36V319.40H84.50V320.80H87.20V322.33H89.90V323.87H92.60V325.40H95.00V326.20H96.54V327.72H98.08V329.24H99.62V330.76H101.16V332.28H102.70V333.80H104.62V335.15H106.55V336.50H108.48V337.85H110.40V339.20H115.00V340.35H119.60V341.50H121.44V343.04H123.28V344.58H125.12V346.12H126.96V347.66H128.80V349.20H135.00V350.75H141.20V352.30H145.30V353.83H149.40V355.37H153.50V356.90H165.00V358.20H168.35V359.55H171.70V360.90H175.10V361.90H178.50V362.90H182.50V364.25H186.50V365.60H197.30H214.80H216.80V366.60H218.80V367.60H228.30V368.30" stroke="#f4b4c4" stroke-width="3.0" fill="none" stroke-opacity="0.45"/>
<path d="M59.20 273.50H60.05V275.50H60.90V277.50H61.75V279.50H62.60V281.50H63.37V283.17H64.13V284.83H64.90V286.50H65.67V288.17H66.43V289.83H67.20V291.50H67.97V293.17H68.73V294.83H69.50V296.50H70.42V297.90H71.34V299.30H72.26V300.70H73.18V302.10H74.10V303.50H75.65V305.03H77.20V306.57H78.75V308.10H80.30V309.63H81.85V311.17H83.40V312.70H85.52V314.05H87.63V315.40H89.75V316.75H91.87V318.10H93.98V319.45H96.10V320.80H98.40V322.40H100.70V324.00H103.00V325.60H105.30V327.20H107.60V328.80H109.00V330.15H110.40V331.50H113.48V333.04H116.56V334.58H119.64V336.12H122.72V337.66H125.80V339.20H129.65V340.75H133.50V342.30H137.35V343.85H141.20V345.40H146.30V346.93H151.40V348.47H156.50V350.00H160.75V351.05H165.00V352.10H168.60V353.47H172.20V354.83H175.80V356.20H182.50V357.50H189.20V358.80H214.80H221.50V360.20H228.30V361.50" stroke="#d07a8c" stroke-width="1.0" fill="none" stroke-opacity="1.0" stroke-dasharray="1 1.3"/>
<path d="M59.20 274.00H60.05V277.75H60.90V281.50H61.70V284.50H62.50V287.50H63.30V290.50H64.10V293.50H64.90V296.50H65.67V298.43H66.43V300.37H67.20V302.30H67.97V304.23H68.73V306.17H69.50V308.10H70.33V309.59H71.16V311.07H71.99V312.56H72.81V314.04H73.64V315.53H74.47V317.01H75.30V318.50H76.27V320.03H77.23V321.57H78.20V323.10H79.17V324.63H80.13V326.17H81.10V327.70H83.88V329.24H86.66V330.78H89.44V332.32H92.22V333.86H95.00V335.40H97.57V336.80H100.13V338.20H102.70V339.60H105.27V341.00H107.83V342.40H110.40V343.80H113.48V345.20H116.56V346.60H119.64V348.00H122.72V349.40H125.80V350.80H128.88V352.18H131.96V353.56H135.04V354.94H138.12V356.32H141.20V357.70H146.30V359.13H151.40V360.57H156.50V362.00H159.33V363.40H162.17V364.80H165.00V366.20H169.50V367.57H174.00V368.93H178.50V370.30H186.50V371.60H214.80H218.80V373.00H228.30V374.30" stroke="#d07a8c" stroke-width="1.0" fill="none" stroke-opacity="1.0" stroke-dasharray="1 1.3"/>
<path d="M59.20 273.50H59.70V275.20H60.43V277.07H61.15V278.95H61.88V280.82H62.60V282.70H63.37V285.40H64.13V288.10H64.90V290.80H65.60V292.18H66.30V293.56H67.00V294.94H67.70V296.32H68.40V297.70H69.17V299.23H69.93V300.77H70.70V302.30H71.47V303.83H72.23V305.37H73.00V306.90H74.16V308.28H75.32V309.66H76.48V311.04H77.64V312.42H78.80V313.80H79.94V315.20H81.08V316.60H82.22V318.00H83.36V319.40H84.50V320.80H87.20V322.33H89.90V323.87H92.60V325.40H95.00V326.20H96.54V327.72H98.08V329.24H99.62V330.76H101.16V332.28H102.70V333.80H104.62V335.15H106.55V336.50H108.48V337.85H110.40V339.20H115.00V340.35H119.60V341.50H121.44V343.04H123.28V344.58H125.12V346.12H126.96V347.66H128.80V349.20H135.00V350.75H141.20V352.30H145.30V353.83H149.40V355.37H153.50V356.90H165.00V358.20H168.35V359.55H171.70V360.90H175.10V361.90H178.50V362.90H182.50V364.25H186.50V365.60H197.30H214.80H216.80V366.60H218.80V367.60H228.30V368.30" stroke="#9a2444" stroke-width="1.2" fill="none" stroke-opacity="1.0"/>
<path d="M68.40 298.20V295.10 M80.00 315.77V312.67 M90.90 324.93V321.83 M97.00 328.67V325.57 M103.00 334.51V331.41 M112.00 340.10V337.00 M120.30 342.59V339.49 M130.00 350.00V346.90 M139.30 352.32V349.22 M150.00 356.09V352.99 M161.80 358.34V355.24 M175.70 362.58V359.48 M198.20 366.30V363.20 M206.80 366.30V363.20 M215.50 366.62V363.51" stroke="#6a1030" stroke-width="1.0" fill="none"/>
<path d="M326.30 277.10H328.65V278.30H331.00V279.50H331.85V283.30H332.70V287.10H333.55V292.30H334.40V297.50H335.20V300.23H336.00V302.97H336.80V305.70H337.57V308.40H338.33V311.10H339.10V313.80H339.80V315.66H340.50V317.52H341.20V319.38H341.90V321.24H342.60V323.10H343.45V325.40H344.30V327.70H345.15V330.00H346.00V332.30H346.80V335.03H347.60V337.77H348.40V340.50H349.10V341.88H349.80V343.26H350.50V344.64H351.20V346.02H351.90V347.40H353.03V348.77H354.17V350.13H355.30V351.50H356.90V353.05H358.50V354.60H360.02V356.15H361.55V357.70H363.08V359.25H364.60V360.80H369.20V361.95H373.80V363.10H390.80H391.55V364.40H392.30V365.70H431.90H433.45V366.70H435.00V367.70H437.30V369.25H439.60V370.80H459.60H461.20V372.30H467.30H468.45V373.45H469.60V374.60H488.80" stroke="#f4b4c4" stroke-width="3.0" fill="none" stroke-opacity="0.45"/>
<path d="M326.30 277.10H330.00V277.50H330.70V278.77H331.40V280.03H332.10V281.30H332.87V285.17H333.63V289.03H334.40V292.90H335.18V295.22H335.97V297.53H336.75V299.85H337.53V302.17H338.32V304.48H339.10V306.80H339.87V308.61H340.63V310.42H341.40V312.23H342.17V314.04H342.93V315.86H343.70V317.67H344.47V319.48H345.23V321.29H346.00V323.10H346.74V324.84H347.48V326.58H348.21V328.31H348.95V330.05H349.69V331.79H350.42V333.52H351.16V335.26H351.90V337.00H352.60V338.36H353.30V339.72H354.00V341.08H354.70V342.44H355.40V343.80H357.20V345.35H359.00V346.90H360.80V348.45H362.60V350.00H364.40V351.55H366.20V353.10H373.80V354.60H390.80V355.40H391.55V356.70H392.30V358.00H431.90V358.50H433.97V359.93H436.03V361.37H438.10V362.80H459.60H461.20V363.80H468.80V364.60H469.60V365.55H470.40V366.50H488.10" stroke="#c88090" stroke-width="1.0" fill="none" stroke-opacity="1.0" stroke-dasharray="1 1.3"/>
<path d="M326.30 277.50H328.05V278.80H329.80V280.10H330.57V283.97H331.33V287.83H332.10V291.70H332.80V294.72H333.50V297.74H334.20V300.76H334.90V303.78H335.60V306.80H336.37V309.52H337.13V312.23H337.90V314.95H338.67V317.67H339.43V320.38H340.20V323.10H340.98V325.42H341.77V327.73H342.55V330.05H343.33V332.37H344.12V334.68H344.90V337.00H345.60V338.86H346.30V340.72H347.00V342.58H347.70V344.44H348.40V346.30H349.27V347.73H350.15V349.15H351.02V350.57H351.90V352.00H352.91V353.48H353.92V354.95H354.94V356.43H355.95V357.90H356.96V359.38H357.98V360.85H358.99V362.32H360.00V363.80H361.93V365.15H363.85V366.50H365.77V367.85H367.70V369.20H390.80V370.30H391.55V371.30H392.30V372.30H431.90H433.97V373.83H436.03V375.37H438.10V376.90H459.60H460.40V377.70H461.20V378.50H465.00V379.40H468.80V380.30H488.10V380.80" stroke="#c88090" stroke-width="1.0" fill="none" stroke-opacity="1.0" stroke-dasharray="1 1.3"/>
<path d="M326.30 277.10H328.65V278.30H331.00V279.50H331.85V283.30H332.70V287.10H333.55V292.30H334.40V297.50H335.20V300.23H336.00V302.97H336.80V305.70H337.57V308.40H338.33V311.10H339.10V313.80H339.80V315.66H340.50V317.52H341.20V319.38H341.90V321.24H342.60V323.10H343.45V325.40H344.30V327.70H345.15V330.00H346.00V332.30H346.80V335.03H347.60V337.77H348.40V340.50H349.10V341.88H349.80V343.26H350.50V344.64H351.20V346.02H351.90V347.40H353.03V348.77H354.17V350.13H355.30V351.50H356.90V353.05H358.50V354.60H360.02V356.15H361.55V357.70H363.08V359.25H364.60V360.80H369.20V361.95H373.80V363.10H390.80H391.55V364.40H392.30V365.70H431.90H433.45V366.70H435.00V367.70H437.30V369.25H439.60V370.80H459.60H461.20V372.30H467.30H468.45V373.45H469.60V374.60H488.80" stroke="#a83050" stroke-width="1.2" fill="none" stroke-opacity="1.0"/>
<path d="M333.80 294.33V291.23 M343.60 326.31V323.21 M366.50 361.78V358.68 M369.00 362.40V359.30 M371.40 363.00V359.90 M386.10 363.60V360.50 M392.60 366.20V363.10 M399.20 366.20V363.10 M404.60 366.20V363.10 M413.80 366.20V363.10 M444.90 371.30V368.20 M467.80 373.30V370.20" stroke="#6a1a30" stroke-width="1.0" fill="none"/>
<path d="M59.20 492.90H60.50V493.20H62.65V494.10H64.80V495.00H66.27V496.17H67.73V497.33H69.20V498.50H70.30V500.02H71.40V501.55H72.50V503.08H73.60V504.60H74.46V506.16H75.32V507.72H76.18V509.28H77.04V510.84H77.90V512.40H78.94V513.96H79.98V515.52H81.02V517.08H82.06V518.64H83.10V520.20H84.85V521.53H86.60V522.85H88.35V524.17H90.10V525.50H91.85V527.02H93.60V528.55H95.35V530.08H97.10V531.60H98.50V532.98H99.90V534.36H101.30V535.74H102.70V537.12H104.10V538.50H105.82V539.83H107.55V541.15H109.28V542.47H111.00V543.80H114.50V545.10H118.00V546.40H120.33V547.83H122.67V549.27H125.00V550.70H127.30V552.17H129.60V553.63H131.90V555.10H132.93V556.23H133.97V557.37H135.00V558.50H140.75V559.65H146.50V560.80H148.43V562.07H150.37V563.33H152.30V564.60H163.80V565.60H165.73V566.87H167.67V568.13H169.60V569.40H172.17V570.70H174.73V572.00H177.30V573.30H181.15V574.75H185.00V576.20H186.27V577.33H187.53V578.47H188.80V579.60H215.80H217.70V580.70H219.60V581.80H221.50V582.90H228.30" stroke="#b8d8ee" stroke-width="3.2" fill="none" stroke-opacity="0.45"/>
<path d="M59.20 492.90H64.80V493.20H66.40V494.65H68.00V496.10H69.60V497.55H71.20V499.00H72.80V500.45H74.40V501.90H75.71V503.42H77.03V504.95H78.34V506.48H79.65V508.00H80.96V509.52H82.28V511.05H83.59V512.58H84.90V514.10H86.93V515.57H88.97V517.03H91.00V518.50H93.03V519.97H95.07V521.43H97.10V522.90H98.83V524.48H100.57V526.07H102.30V527.65H104.03V529.23H105.77V530.82H107.50V532.40H111.00V533.87H114.50V535.33H118.00V536.80H120.90V537.97H123.80V539.13H126.70V540.30H128.08V541.78H129.47V543.27H130.85V544.75H132.23V546.23H133.62V547.72H135.00V549.20H139.80V550.65H144.60V552.10H149.40V553.55H154.20V555.00H158.70V556.27H163.20V557.53H167.70V558.80H170.00V560.16H172.30V561.52H174.60V562.88H176.90V564.24H179.20V565.60H182.40V567.20H185.60V568.80H188.80V570.40H215.80H218.65V571.85H221.50V573.30H228.30" stroke="#5a6a80" stroke-width="1.0" fill="none" stroke-opacity="1.0" stroke-dasharray="1 1.4"/>
<path d="M59.20 493.00H60.40V494.38H61.60V495.75H62.80V497.12H64.00V498.50H64.99V499.99H65.97V501.47H66.96V502.96H67.94V504.44H68.93V505.93H69.91V507.41H70.90V508.90H71.78V510.42H72.65V511.95H73.53V513.48H74.40V515.00H75.28V516.52H76.15V518.05H77.03V519.58H77.90V521.10H79.21V522.62H80.53V524.15H81.84V525.67H83.15V527.20H84.46V528.73H85.78V530.25H87.09V531.77H88.40V533.30H89.89V534.80H91.37V536.30H92.86V537.80H94.34V539.30H95.83V540.80H97.31V542.30H98.80V543.80H100.55V545.25H102.30V546.70H104.05V548.15H105.80V549.60H107.55V551.05H109.30V552.50H112.08V553.90H114.86V555.30H117.64V556.70H120.42V558.10H123.20V559.50H124.89V560.91H126.57V562.33H128.26V563.74H129.94V565.16H131.63V566.57H133.31V567.99H135.00V569.40H139.80V570.85H144.60V572.30H149.40V573.75H154.20V575.20H159.33V576.80H164.47V578.40H169.60V580.00H172.80V581.27H176.00V582.53H179.20V583.80H181.77V585.10H184.33V586.40H186.90V587.70H215.80V588.30H219.65V589.75H223.50V591.20H227.30" stroke="#5a6a80" stroke-width="1.0" fill="none" stroke-opacity="1.0" stroke-dasharray="1 1.4"/>
<path d="M59.20 492.90H60.50V493.20H62.65V494.10H64.80V495.00H66.27V496.17H67.73V497.33H69.20V498.50H70.30V500.02H71.40V501.55H72.50V503.08H73.60V504.60H74.46V506.16H75.32V507.72H76.18V509.28H77.04V510.84H77.90V512.40H78.94V513.96H79.98V515.52H81.02V517.08H82.06V518.64H83.10V520.20H84.85V521.53H86.60V522.85H88.35V524.17H90.10V525.50H91.85V527.02H93.60V528.55H95.35V530.08H97.10V531.60H98.50V532.98H99.90V534.36H101.30V535.74H102.70V537.12H104.10V538.50H105.82V539.83H107.55V541.15H109.28V542.47H111.00V543.80H114.50V545.10H118.00V546.40H120.33V547.83H122.67V549.27H125.00V550.70H127.30V552.17H129.60V553.63H131.90V555.10H132.93V556.23H133.97V557.37H135.00V558.50H140.75V559.65H146.50V560.80H148.43V562.07H150.37V563.33H152.30V564.60H163.80V565.60H165.73V566.87H167.67V568.13H169.60V569.40H172.17V570.70H174.73V572.00H177.30V573.30H181.15V574.75H185.00V576.20H186.27V577.33H187.53V578.47H188.80V579.60H215.80H217.70V580.70H219.60V581.80H221.50V582.90H228.30" stroke="#284868" stroke-width="1.1" fill="none" stroke-opacity="1.0"/>
<path d="M70.00 500.11V497.01 M80.00 516.05V512.95 M88.10 524.49V521.39 M100.00 534.96V531.86 M110.00 543.53V540.43 M122.70 549.79V546.69 M134.90 558.89V555.79 M160.80 565.84V562.74 M175.00 572.64V569.54 M198.90 580.10V577.00 M205.80 580.10V577.00 M212.70 580.10V577.00" stroke="#1a3048" stroke-width="1.0" fill="none"/>
<path d="M59.20 493.00H59.60V497.00H60.40V502.00H61.20V507.00H62.00V512.00H62.87V517.67H63.73V523.33H64.60V529.00H65.55V537.00H66.50V545.00H67.23V549.33H67.97V553.67H68.70V558.00H69.43V561.33H70.17V564.67H70.90V568.00H71.96V569.48H73.02V570.96H74.08V572.44H75.14V573.92H76.20V575.40H78.50V576.53H80.80V577.67H83.10V578.80H87.45V579.70H91.80V580.60H98.80H100.53V582.07H102.27V583.53H104.00V585.00H109.30V585.60H112.80V586.90H116.30V588.20H118.47V589.73H120.65V591.25H122.83V592.77H125.00V594.30H135.00H142.70V595.30H150.40V596.30H151.35V597.30H152.30V598.30H228.30" stroke="#f4b4c4" stroke-width="2.8" fill="none" stroke-opacity="0.45"/>
<path d="M59.20 493.00H59.97V494.33H60.73V495.67H61.50V497.00H62.25V500.75H63.00V504.50H63.75V508.25H64.50V512.00H65.27V517.67H66.03V523.33H66.80V529.00H67.53V534.33H68.27V539.67H69.00V545.00H70.00V549.50H71.00V554.00H71.75V555.62H72.50V557.25H73.25V558.88H74.00V560.50H75.50V561.88H77.00V563.25H78.50V564.62H80.00V566.00H81.03V567.30H82.07V568.60H83.10V569.90H98.80H102.30V571.07H105.80V572.23H109.30V573.40H111.05V574.70H112.80V576.00H114.55V577.30H116.30V578.60H118.04V580.00H119.78V581.40H121.52V582.80H123.26V584.20H125.00V585.60H136.75V587.15H148.50V588.70H152.30V590.00H215.80H227.30V591.20" stroke="#d06078" stroke-width="1.0" fill="none" stroke-opacity="1.0" stroke-dasharray="1 1.4"/>
<path d="M59.20 493.50V500.00H60.50V512.00H61.30V517.67H62.10V523.33H62.90V529.00H63.70V537.00H64.50V545.00H65.50V552.50H66.50V560.00H67.33V564.00H68.17V568.00H69.00V572.00H69.75V574.00H70.50V576.00H71.25V578.00H72.00V580.00H73.20V581.50H74.40V583.00H76.58V584.52H78.75V586.05H80.92V587.58H83.10V589.10H90.95V589.95H98.80V590.80H102.30V592.27H105.80V593.73H109.30V595.20H113.22V596.50H117.15V597.80H121.08V599.10H125.00V600.40H135.00V600.80H148.50V601.50H150.40V602.50H152.30V603.50H228.30" stroke="#d06078" stroke-width="1.0" fill="none" stroke-opacity="1.0" stroke-dasharray="1 1.4"/>
<path d="M59.20 493.00H59.60V497.00H60.40V502.00H61.20V507.00H62.00V512.00H62.87V517.67H63.73V523.33H64.60V529.00H65.55V537.00H66.50V545.00H67.23V549.33H67.97V553.67H68.70V558.00H69.43V561.33H70.17V564.67H70.90V568.00H71.96V569.48H73.02V570.96H74.08V572.44H75.14V573.92H76.20V575.40H78.50V576.53H80.80V577.67H83.10V578.80H87.45V579.70H91.80V580.60H98.80H100.53V582.07H102.27V583.53H104.00V585.00H109.30V585.60H112.80V586.90H116.30V588.20H118.47V589.73H120.65V591.25H122.83V592.77H125.00V594.30H135.00H142.70V595.30H150.40V596.30H151.35V597.30H152.30V598.30H228.30" stroke="#c4284c" stroke-width="1.1" fill="none" stroke-opacity="1.0"/>
<path d="M64.00 525.58V522.48 M100.30 582.37V579.27 M198.90 598.80V595.70" stroke="#a01838" stroke-width="1.0" fill="none"/>
<path d="M325.80 493.50V496.70H326.60V500.77H327.40V504.83H328.20V508.90H329.07V514.70H329.93V520.50H330.80V526.30H331.70V530.37H332.60V534.43H333.50V538.50H334.37V539.97H335.23V541.43H336.10V542.90H336.97V544.37H337.83V545.83H338.70V547.30H339.74V548.86H340.78V550.42H341.82V551.98H342.86V553.54H343.90V555.10H345.63V556.27H347.37V557.43H349.10V558.60H350.43V560.12H351.75V561.65H353.07V563.18H354.40V564.70H355.78V566.10H357.16V567.50H358.54V568.90H359.92V570.30H361.30V571.70H363.63V572.83H365.97V573.97H368.30V575.10H370.05V576.42H371.80V577.75H373.55V579.08H375.30V580.40H377.65V581.85H380.00V583.30H383.45V584.75H386.90V586.20H389.20V587.30H398.50H399.27V588.47H400.03V589.63H400.80V590.80H430.80H431.57V591.93H432.33V593.07H433.10V594.20H438.10H444.80V595.70H445.70V596.80H446.60V597.90H447.50V599.00H459.60V600.40H461.00V602.40H484.50" stroke="#b8d8ee" stroke-width="3.2" fill="none" stroke-opacity="0.45"/>
<path d="M325.80 493.50H326.60V496.00H327.40V498.50H328.27V503.70H329.13V508.90H330.00V514.10H330.70V517.24H331.40V520.38H332.10V523.52H332.80V526.66H333.50V529.80H334.36V531.32H335.23V532.85H336.09V534.38H336.95V535.90H337.81V537.42H338.67V538.95H339.54V540.48H340.40V542.00H341.85V543.45H343.30V544.90H344.75V546.35H346.20V547.80H347.65V549.25H349.10V550.70H351.30V552.23H353.50V553.75H355.70V555.27H357.90V556.80H359.98V558.38H362.06V559.96H364.14V561.54H366.22V563.12H368.30V564.70H370.40V566.10H372.50V567.50H374.60V568.90H376.70V570.30H378.80V571.70H380.82V573.00H382.85V574.30H384.88V575.60H386.90V576.90H393.80V578.10H396.13V579.63H398.47V581.17H400.80V582.70H429.60H431.13V583.87H432.67V585.03H434.20V586.20H440.80H442.48V587.73H444.15V589.25H445.82V590.77H447.50V592.30H458.30V593.00H459.65V594.15H461.00V595.30H484.50" stroke="#5a6a80" stroke-width="1.0" fill="none" stroke-opacity="1.0" stroke-dasharray="1 1.4"/>
<path d="M325.80 494.00V500.20H326.62V505.00H327.45V509.80H328.28V514.60H329.10V519.40H329.80V524.28H330.50V529.16H331.20V534.04H331.90V538.92H332.60V543.80H333.32V545.83H334.03V547.87H334.75V549.90H335.47V551.93H336.18V553.97H336.90V556.00H338.16V557.49H339.41V558.97H340.67V560.46H341.93V561.94H343.19V563.43H344.44V564.91H345.70V566.40H347.44V567.90H349.19V569.40H350.93V570.90H352.67V572.40H354.41V573.90H356.16V575.40H357.90V576.90H359.63V578.35H361.37V579.80H363.10V581.25H364.83V582.70H366.57V584.15H368.30V585.60H371.35V586.90H374.40V588.20H377.45V589.50H380.50V590.80H384.17V591.93H387.83V593.07H391.50V594.20H394.97V595.37H398.43V596.53H401.90V597.70H429.60H431.35V598.85H433.10V600.00H438.10V600.40H441.23V601.50H444.37V602.60H447.50V603.70H461.00V604.40H484.50" stroke="#5a6a80" stroke-width="1.0" fill="none" stroke-opacity="1.0" stroke-dasharray="1 1.4"/>
<path d="M325.80 493.50V496.70H326.60V500.77H327.40V504.83H328.20V508.90H329.07V514.70H329.93V520.50H330.80V526.30H331.70V530.37H332.60V534.43H333.50V538.50H334.37V539.97H335.23V541.43H336.10V542.90H336.97V544.37H337.83V545.83H338.70V547.30H339.74V548.86H340.78V550.42H341.82V551.98H342.86V553.54H343.90V555.10H345.63V556.27H347.37V557.43H349.10V558.60H350.43V560.12H351.75V561.65H353.07V563.18H354.40V564.70H355.78V566.10H357.16V567.50H358.54V568.90H359.92V570.30H361.30V571.70H363.63V572.83H365.97V573.97H368.30V575.10H370.05V576.42H371.80V577.75H373.55V579.08H375.30V580.40H377.65V581.85H380.00V583.30H383.45V584.75H386.90V586.20H389.20V587.30H398.50H399.27V588.47H400.03V589.63H400.80V590.80H430.80H431.57V591.93H432.33V593.07H433.10V594.20H438.10H444.80V595.70H445.70V596.80H446.60V597.90H447.50V599.00H459.60V600.40H461.00V602.40H484.50" stroke="#284868" stroke-width="1.1" fill="none" stroke-opacity="1.0"/>
<path d="M336.00 543.23V540.13 M343.00 554.25V551.15 M350.00 560.14V557.04 M356.00 566.82V563.72 M364.00 573.51V570.41 M376.00 581.33V578.23 M383.60 585.31V582.21 M397.00 587.80V584.70 M406.00 591.30V588.20 M421.70 591.30V588.20 M433.80 594.74V591.64 M484.00 602.90V599.80" stroke="#1a3048" stroke-width="1.0" fill="none"/>
<path d="M325.80 493.50H326.50V494.10H327.93V495.57H329.37V497.03H330.80V498.50H331.70V501.40H332.60V504.30H333.50V507.20H334.37V510.10H335.23V513.00H336.10V515.90H336.80V517.82H337.50V519.74H338.20V521.66H338.90V523.58H339.60V525.50H340.68V527.02H341.75V528.55H342.82V530.08H343.90V531.60H345.20V532.90H346.50V534.20H347.80V535.50H349.10V536.80H350.16V538.20H351.22V539.60H352.28V541.00H353.34V542.40H354.40V543.80H356.70V545.23H359.00V546.67H361.30V548.10H363.63V549.57H365.97V551.03H368.30V552.50H370.05V553.80H371.80V555.10H373.55V556.40H375.30V557.70H377.63V558.87H379.97V560.03H382.30V561.20H384.60V562.70H386.90V564.20H388.10V567.10H395.00V567.70H395.77V569.63H396.53V571.57H397.30V573.50H403.10H404.80V574.65H406.50V575.80H407.68V577.10H408.85V578.40H410.02V579.70H411.20V581.00H440.10H440.80V584.20H445.50H446.20V587.60H487.90H488.50V596.30H494.60" stroke="#f4b4c4" stroke-width="2.8" fill="none" stroke-opacity="0.45"/>
<path d="M325.80 493.50H328.20V495.00H329.08V496.45H329.97V497.90H330.85V499.35H331.73V500.80H332.62V502.25H333.50V503.70H334.24V505.44H334.99V507.19H335.73V508.93H336.47V510.67H337.21V512.41H337.96V514.16H338.70V515.90H339.87V517.35H341.03V518.80H342.20V520.25H343.37V521.70H344.53V523.15H345.70V524.60H347.43V526.12H349.15V527.65H350.88V529.18H352.60V530.70H354.78V532.23H356.95V533.75H359.12V535.27H361.30V536.80H363.40V538.20H365.50V539.60H367.60V541.00H369.70V542.40H371.80V543.80H373.44V545.24H375.08V546.68H376.72V548.12H378.36V549.56H380.00V551.00H382.70V552.33H385.40V553.67H388.10V555.00H389.94V556.38H391.78V557.76H393.62V559.14H395.46V560.52H397.30V561.90H404.20V563.10H405.60V564.52H407.00V565.94H408.40V567.36H409.80V568.78H411.20V570.20H440.10H440.80V572.80H443.50V574.15H446.20V575.50H487.90H489.20V577.20H494.60" stroke="#d06078" stroke-width="1.0" fill="none" stroke-opacity="1.0" stroke-dasharray="1 1.4"/>
<path d="M325.80 494.00H326.50V498.50H327.22V500.53H327.93V502.57H328.65V504.60H329.37V506.63H330.08V508.67H330.80V510.70H331.70V514.77H332.60V518.83H333.50V522.90H334.24V524.64H334.99V526.39H335.73V528.13H336.47V529.87H337.21V531.61H337.96V533.36H338.70V535.10H339.70V536.59H340.70V538.07H341.70V539.56H342.70V541.04H343.70V542.53H344.70V544.01H345.70V545.50H347.44V547.08H349.18V548.66H350.92V550.24H352.66V551.82H354.40V553.40H356.57V554.92H358.75V556.45H360.93V557.98H363.10V559.50H365.28V560.80H367.45V562.10H369.62V563.40H371.80V564.70H373.64V566.16H375.48V567.62H377.32V569.08H379.16V570.54H381.00V572.00H382.77V573.23H384.55V574.45H386.33V575.67H388.10V576.90H390.40V578.35H392.70V579.80H395.00V581.25H397.30V582.70H399.62V584.05H401.93V585.40H404.25V586.75H406.57V588.10H408.88V589.45H411.20V590.80H430.00H434.05V592.12H438.10V593.45H442.15V594.77H446.20V596.10H487.90H488.50V604.40" stroke="#d06078" stroke-width="1.0" fill="none" stroke-opacity="1.0" stroke-dasharray="1 1.4"/>
<path d="M325.80 493.50H326.50V494.10H327.93V495.57H329.37V497.03H330.80V498.50H331.70V501.40H332.60V504.30H333.50V507.20H334.37V510.10H335.23V513.00H336.10V515.90H336.80V517.82H337.50V519.74H338.20V521.66H338.90V523.58H339.60V525.50H340.68V527.02H341.75V528.55H342.82V530.08H343.90V531.60H345.20V532.90H346.50V534.20H347.80V535.50H349.10V536.80H350.16V538.20H351.22V539.60H352.28V541.00H353.34V542.40H354.40V543.80H356.70V545.23H359.00V546.67H361.30V548.10H363.63V549.57H365.97V551.03H368.30V552.50H370.05V553.80H371.80V555.10H373.55V556.40H375.30V557.70H377.63V558.87H379.97V560.03H382.30V561.20H384.60V562.70H386.90V564.20H388.10V567.10H395.00V567.70H395.77V569.63H396.53V571.57H397.30V573.50H403.10H404.80V574.65H406.50V575.80H407.68V577.10H408.85V578.40H410.02V579.70H411.20V581.00H440.10H440.80V584.20H445.50H446.20V587.60H487.90H488.50V596.30H494.60" stroke="#c4284c" stroke-width="1.1" fill="none" stroke-opacity="1.0"/>
<path d="M343.00 530.82V527.72 M352.00 541.13V538.03 M358.00 546.54V543.44 M367.00 552.18V549.08 M380.00 560.55V557.45 M395.00 568.20V565.10 M403.00 574.00V570.90 M426.80 581.50V578.40 M433.80 581.50V578.40 M439.00 581.50V578.40 M449.30 588.10V585.00 M461.50 588.10V585.00 M475.30 588.10V585.00 M480.50 588.10V585.00" stroke="#a01838" stroke-width="1.0" fill="none"/>
</svg></div>
<div id="bd"></div>
</div></body></html>
